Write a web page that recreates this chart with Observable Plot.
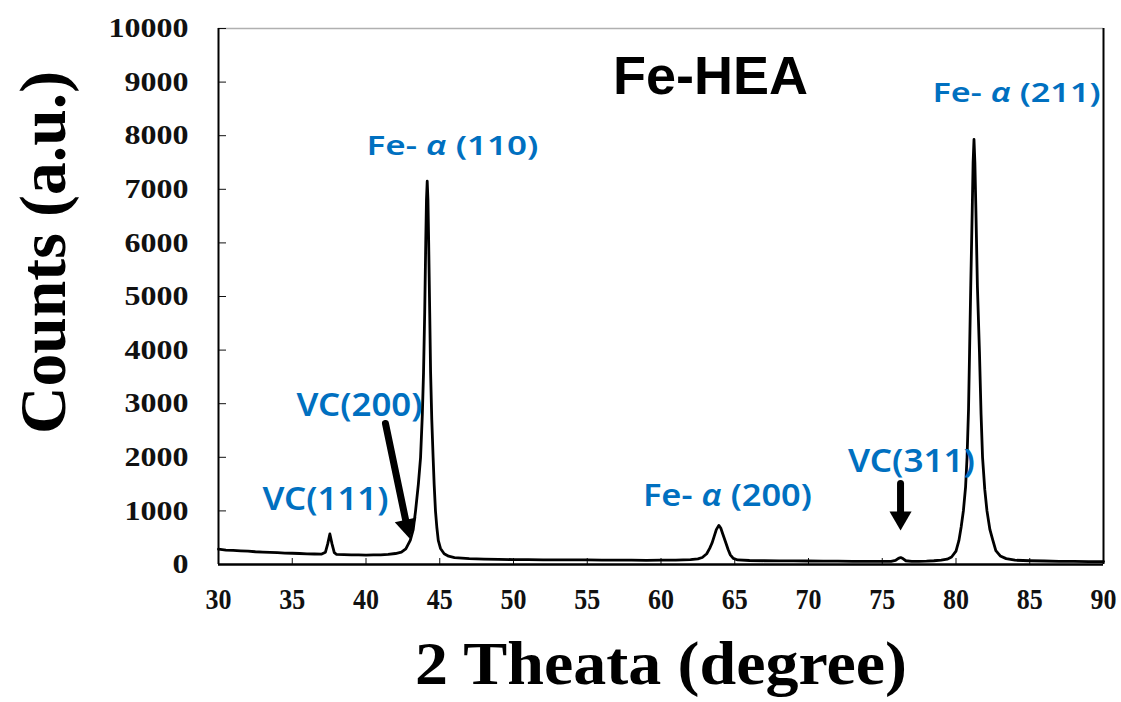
<!DOCTYPE html>
<html><head><meta charset="utf-8">
<script src="https://cdn.jsdelivr.net/npm/d3@7"></script>
<script src="https://cdn.jsdelivr.net/npm/@observablehq/plot@0.6"></script>
<style>body{margin:0;background:#fff;}</style>
</head><body><div id="chart"></div>
<script>
// ---- data ----
const twoTheta = [30.0,30.5,31.0,31.5,32.0,32.5,33.0,33.5,34.0,34.5,35.0,35.5,36.0,36.5,37.0,37.25,37.4,37.55,37.7,37.85,38.0,38.5,39.0,39.5,40.0,40.5,41.0,41.5,42.0,42.4,42.7,43.0,43.2,43.36,43.55,43.7,43.82,43.9,43.98,44.05,44.1,44.15,44.2,44.25,44.32,44.38,44.46,44.55,44.62,44.71,44.8,44.9,45.05,45.3,45.6,46.0,47.0,48.0,49.0,50.0,51,52,53,54,55,56,57,58,59,60,61,62,62.5,62.8,63.1,63.3,63.46,63.6,63.75,63.92,64.05,64.2,64.4,64.55,64.7,64.9,65.2,66,67,68,69,70,71,72,73,74,75,75.6,75.9,76.1,76.25,76.4,76.6,77,77.5,78,78.5,79.0,79.4,79.7,80.0,80.2,80.35,80.5,80.65,80.75,80.85,80.92,81.0,81.1,81.16,81.22,81.28,81.35,81.45,81.59,81.7,81.8,81.95,82.1,82.3,82.5,82.7,83.0,83.4,84,85,86,87,88,89,90];
const counts = [285,270,262,255,250,238,232,228,220,214,210,205,200,196,195,230,380,570,380,220,190,185,180,178,175,178,180,190,205,230,290,450,650,1000,1500,2000,2800,3575,4700,6000,6800,7150,6800,6000,4700,3575,2700,2000,1500,1000,700,450,300,200,155,130,110,100,95,92,90,88,86,85,85,82,80,80,78,80,82,90,105,130,200,300,400,520,650,730,680,560,400,280,180,115,85,75,70,68,66,65,63,62,60,60,58,58,75,115,130,110,70,58,58,62,70,82,100,140,250,450,700,1000,1450,2000,2900,3965,5200,6600,7500,7930,7500,6600,5200,3965,2800,2000,1400,1000,650,450,260,160,110,80,70,65,60,58,55,55];
const xTicks = [30,35,40,45,50,55,60,65,70,75,80,85,90];
const yTicks = [0,1000,2000,3000,4000,5000,6000,7000,8000,9000,10000];
const peakNames = ["Fe- α (110)","Fe- α (211)","VC(200)","VC(111)","Fe- α (200)","VC(311)"];
const peakLabelX = [45.86,84.1,39.56,37.25,64.5,76.98];
const peakLabelY = [7800,8787,2966,1213,1269,1922];
const titleText = "Fe-HEA";
const titleX = 63.36, titleY = 9104;
const arrowTailX = [41.32,76.24];
const arrowTailY = [2631,1511];
const arrowTipX = [42.95,76.24];
const arrowTipY = [485,634];
const xLabel = "2 Theata (degree)";
const yLabel = "Counts (a.u.)";

// ---- styling (not data) ----
const serif = "'Liberation Serif','Times New Roman',serif";
const blue = "#0070C0";
const labelStyle = {
  "Fe- α (110)": {w: 172, fs: 27},
  "Fe- α (211)": {w: 168, fs: 27},
  "VC(200)": {w: 126, fs: 32},
  "VC(111)": {w: 126, fs: 32},
  "Fe- α (200)": {w: 169, fs: 31},
  "VC(311)": {w: 127, fs: 32}
};

const spectrum = twoTheta.map((t,i)=>({t, c: counts[i]}));
const labels = peakNames.map((n,i)=>({n, x: peakLabelX[i], y: peakLabelY[i]}));
const arrows = arrowTipX.map((x,i)=>({x1: arrowTailX[i], y1: arrowTailY[i], x2: x, y2: arrowTipY[i]}));

const plot = Plot.plot({
  width: 1121, height: 702,
  marginLeft: 218, marginRight: 18, marginTop: 28, marginBottom: 138,
  style: {background: "#fff", overflow: "visible"},
  x: {domain: [30, 90]},
  y: {domain: [0, 10000]},
  marks: [
    Plot.ruleY([10000], {stroke: "#b0b0b0", strokeWidth: 1.5}),
    Plot.axisY({ticks: yTicks, tickSize: -8, tickPadding: 38, tickFormat: d => String(d), label: null,
      fontSize: 27, fontWeight: "bold", fontFamily: serif, color: "#111"}),
    Plot.axisX({ticks: xTicks, tickSize: -6, tickPadding: 29, tickFormat: d => String(d), label: null,
      fontSize: 30, fontWeight: "bold", fontFamily: serif, color: "#111"}),
    Plot.line(spectrum, {x: "t", y: "c", stroke: "#000", strokeWidth: 2.8, curve: "linear"}),
    Plot.ruleX([30], {stroke: "#000", strokeWidth: 2}),
    Plot.ruleX([90], {stroke: "#000", strokeWidth: 2}),
    Plot.ruleY([0], {stroke: "#000", strokeWidth: 2.5}),
    Plot.text(labels, {x: "x", y: "y", text: "n", fill: blue, fontSize: d => labelStyle[d.n].fs, fontWeight: 600, fontFamily: "'Noto Sans',sans-serif"}),
    Plot.text([titleText], {x: [titleX], y: [titleY], text: d => d, fontSize: 54, fontWeight: "bold", fontFamily: "'Liberation Sans',Arial,sans-serif", fill: "#000"}),
    Plot.arrow(arrows, {x1: "x1", y1: "y1", x2: "x2", y2: "y2", stroke: "#000", strokeWidth: 7, headLength: 0, insetEnd: 14}),
    Plot.dot([arrows[0]], {x: "x2", y: "y2", symbol: "triangle", r: 8.2, fill: "#000", stroke: null, rotate: 168, dx: -2.6, dy: -12.4}),
    Plot.dot([arrows[1]], {x: "x2", y: "y2", symbol: "triangle", r: 8.2, fill: "#000", stroke: null, rotate: 180, dy: -12.7}),
    Plot.text([yLabel], {frameAnchor: "top-left", text: d => d, rotate: -90, dx: -175, dy: 224, textAnchor: "middle", lineAnchor: "middle", fontSize: 66, fontWeight: "bold", fontFamily: serif, fill: "#000"}),
    Plot.text([xLabel], {frameAnchor: "bottom", text: d => d, dy: 100, textAnchor: "middle", lineAnchor: "middle", fontSize: 62, fontWeight: "bold", fontFamily: serif, fill: "#000"})
  ]
});
document.getElementById("chart").appendChild(plot);
const svg = d3.select(plot);
const fit = (t, w) => d3.select(t).attr("textLength", w).attr("lengthAdjust", "spacingAndGlyphs");
svg.selectAll("text").each(function() {
  const s = this.textContent;
  if (s === yLabel) fit(this, 363);
  else if (s === xLabel) fit(this, 492);
  else if (labelStyle[s]) {
    fit(this, labelStyle[s].w);
    if (s.includes("α")) {
      const parts = s.split("α");
      const el = d3.select(this);
      el.text(null);
      el.append("tspan").text(parts[0]);
      el.append("tspan").attr("font-style", "italic").text("α");
      el.append("tspan").text(parts[1]);
    }
  }
});
svg.selectAll('g[aria-label="x-axis tick label"] text').each(function() { fit(this, 26); });
svg.selectAll('g[aria-label="y-axis tick label"] text').each(function() { fit(this, 16 * this.textContent.length); });
</script>
</body></html>
